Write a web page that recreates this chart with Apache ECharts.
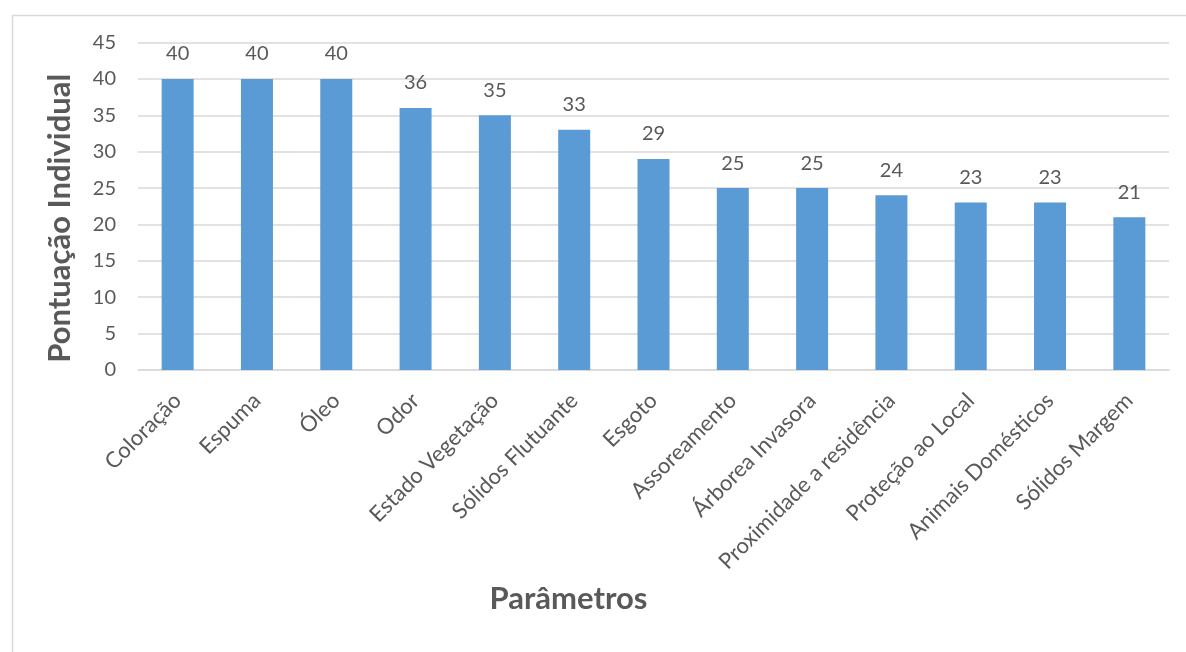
<!DOCTYPE html>
<html>
<head>
<meta charset="utf-8">
<script src="https://cdn.jsdelivr.net/npm/echarts@6/dist/echarts.min.js"></script>
<style>
  html, body { margin: 0; padding: 0; background: #ffffff; }
  #chart { width: 1186px; height: 652px; }
</style>
</head>
<body>
<div id="chart"></div>
<script>
// Parameter names and their individual scores
const categories = [
  'Coloração', 'Espuma', 'Óleo', 'Odor', 'Estado Vegetação', 'Sólidos Flutuante',
  'Esgoto', 'Assoreamento', 'Árborea Invasora', 'Proximidade a residência',
  'Proteção ao Local', 'Animais Domésticos', 'Sólidos Margem'
];
const scores = [40, 40, 40, 36, 35, 33, 29, 25, 25, 24, 23, 23, 21];

const FONT = 'Lato, "Open Sans", sans-serif';
const TEXT = '#595959';

const chart = echarts.init(document.getElementById('chart'), null, { renderer: 'canvas' });

chart.setOption({
  backgroundColor: '#ffffff',
  animation: false,
  graphic: [{
    type: 'rect',
    left: 10, top: 13,
    shape: { width: 1220, height: 700 },
    style: { fill: 'none', stroke: '#d9d9d9', lineWidth: 1.5 },
    silent: true
  }],
  grid: { left: 138, right: 17, top: 42.5, bottom: 282 },
  xAxis: {
    type: 'category',
    data: categories,
    name: 'Parâmetros',
    nameLocation: 'middle',
    nameGap: 213,
    nameTextStyle: {
      fontFamily: FONT, fontSize: 31, fontWeight: 'bold', color: TEXT,
      padding: [0, 170, 0, 0]
    },
    axisLine: { lineStyle: { color: '#d9d9d9', width: 1.5 } },
    axisTick: { show: false },
    axisLabel: {
      rotate: 45, interval: 0, margin: 27,
      fontFamily: FONT, fontSize: 22, color: TEXT
    }
  },
  yAxis: {
    type: 'value',
    min: 0, max: 45, interval: 5,
    name: 'Pontuação Individual',
    nameLocation: 'middle',
    nameGap: 63,
    nameTextStyle: {
      fontFamily: FONT, fontSize: 31, fontWeight: 'bold', color: TEXT,
      padding: [0, 24, 0, 0]
    },
    axisLine: { show: false },
    axisTick: { show: false },
    axisLabel: { margin: 22, fontFamily: FONT, fontSize: 20, color: TEXT },
    splitLine: { lineStyle: { color: '#d9d9d9', width: 1.5 } }
  },
  series: [{
    type: 'bar',
    data: scores,
    barWidth: 32,
    itemStyle: { color: '#5b9bd5' },
    label: {
      show: true, position: 'top', distance: 15,
      fontFamily: FONT, fontSize: 20, color: TEXT
    }
  }]
});
</script>
</body>
</html>
